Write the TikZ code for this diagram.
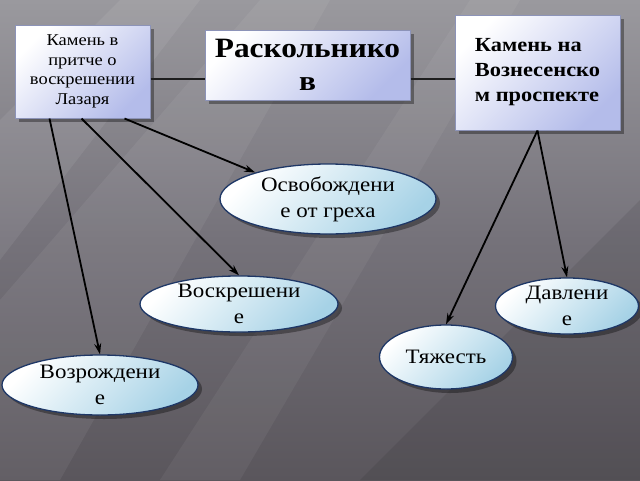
\documentclass[tikz,border=0pt]{standalone}
\usepackage{fontspec}
\setmainfont[FakeStretch=1.12]{Liberation Serif}
\usetikzlibrary{shapes.geometric,shadows,arrows.meta,calc}
\definecolor{bgtop}{HTML}{9A999E}
\definecolor{bgmid}{HTML}{75727A}
\definecolor{bgbot}{HTML}{5A565C}
\definecolor{boxblue}{HTML}{B4BCEA}
\definecolor{boxborder}{HTML}{8C93B8}
\definecolor{ellblue}{HTML}{A6D2E6}
\definecolor{ellborder}{HTML}{1E3766}
\definecolor{linec}{HTML}{1E1E1E}
\begin{document}
\begin{tikzpicture}[x=1pt,y=-1pt,
  box/.style={draw=boxborder, line width=1pt, top color=white, bottom color=boxblue, shading angle=45,
    drop shadow={shadow xshift=4pt, shadow yshift=-4pt, opacity=0.35, fill=black},
    align=center, inner sep=2pt},
  ell/.style={ellipse, draw=ellborder, line width=1.3pt, top color=white, bottom color=ellblue, shading angle=45,
    drop shadow={shadow xshift=4pt, shadow yshift=-4pt, opacity=0.35, fill=black},
    align=center, inner sep=0pt, font=\fontsize{20.5}{26}\selectfont},
  link/.style={linec, line width=2.4pt},
  arr/.style={black, line width=1.8pt, -{Stealth[length=11pt,width=7pt]}}]
\useasboundingbox (0,0) rectangle (640,480);
\shade[top color=bgtop, bottom color=bgbot, middle color=bgmid] (0,0) rectangle (640,480);
\fill[white, opacity=0.07] (0,120) -- (120,0) -- (200,0) -- (0,260) -- cycle;
\fill[white, opacity=0.06] (0,300) -- (260,0) -- (330,0) -- (60,480) -- (0,480) -- cycle;
\fill[white, opacity=0.05] (160,480) -- (470,0) -- (520,0) -- (240,480) -- cycle;
\fill[black, opacity=0.08] (360,480) -- (640,200) -- (640,480) -- cycle;

\node[box, minimum width=135pt, minimum height=93pt, font=\fontsize{16.5}{19.5}\selectfont] (L) at (82.5,71.5)
  {Камень в\\притче о\\воскрешении\\Лазаря};
\node[box, minimum width=205pt, minimum height=70pt, font=\fontsize{28}{33}\selectfont\bfseries] (M) at (307.5,65)
  {Раскольнико\\в};
\node[box, minimum width=165pt, minimum height=115pt, align=left, font=\fontsize{20}{25}\selectfont\bfseries] (R) at (537.5,72.5)
  {Камень на\\Вознесенско\\м проспекте};

\node[ell, minimum width=216pt, minimum height=70pt] (O) at (328,199) {Освобождени\\е от греха};
\node[ell, minimum width=198pt, minimum height=53pt] (V) at (239,304) {Воскрешени\\е};
\node[ell, minimum width=196pt, minimum height=60pt] (Z) at (100,385) {Возрождени\\е};
\node[ell, minimum width=133pt, minimum height=64pt] (T) at (446,357) {Тяжесть};
\node[ell, minimum width=143pt, minimum height=55pt] (D) at (567,306) {Давлени\\е};

\draw[link] ([yshift=-7.5pt]L.east) -- ([yshift=-7.5pt]L.east -| M.west);
\draw[link] ([yshift=-7.5pt]L.east -| M.east) -- ([yshift=-7.5pt]L.east -| R.west);

\draw[arr] ([xshift=110pt]L.south west) -- (O.160);
\draw[arr] ([xshift=67pt]L.south west) -- (V.north);
\draw[arr] ([xshift=35pt]L.south west) -- (Z.north);
\draw[arr] (R.south) -- (T.north);
\draw[arr] (R.south) -- (D.north);
\end{tikzpicture}
\end{document}
